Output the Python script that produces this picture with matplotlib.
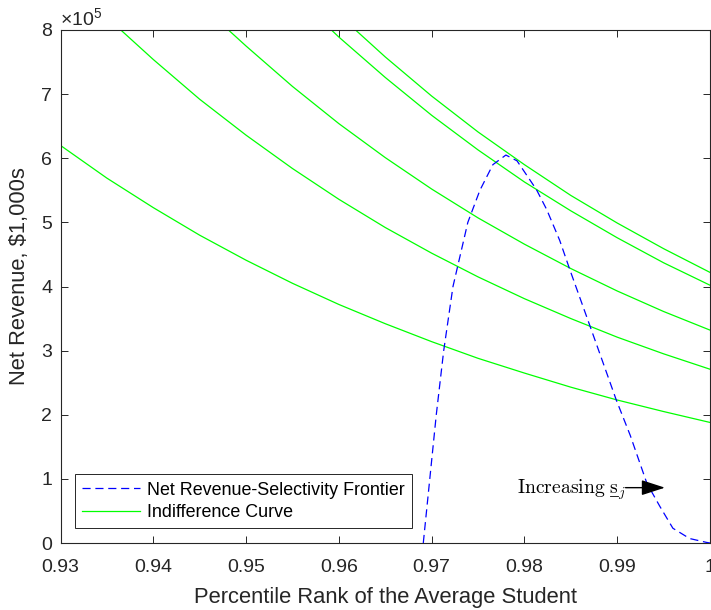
import matplotlib
matplotlib.use("Agg")
import matplotlib.pyplot as plt
from matplotlib.lines import Line2D

# ---------------- data (values in units of 1e5) ----------------
frontier_x = [0.9691, 0.9698, 0.9705, 0.9713, 0.9723, 0.9731, 0.9739, 0.9752, 0.9766,
              0.9780, 0.9792, 0.9813, 0.9824, 0.9838, 0.9849, 0.9871, 0.9899, 0.9914,
              0.9932, 0.9946, 0.9960, 0.9978, 0.9996, 1.0000]
frontier_y = [0.00, 1.00, 2.00, 3.00, 4.00, 4.50, 5.00, 5.50, 5.90,
              6.05, 5.96, 5.51, 5.20, 4.72, 4.26, 3.37, 2.23, 1.68,
              0.93, 0.57, 0.23, 0.07, 0.01, 0.00]

ic1_x = [0.930, 0.935, 0.940, 0.945, 0.950, 0.955, 0.960, 0.965, 0.970, 0.975,
         0.980, 0.985, 0.990, 0.995, 1.000]
ic1_y = [6.20, 5.69, 5.23, 4.80, 4.41, 4.05, 3.72, 3.42, 3.14, 2.88,
         2.65, 2.43, 2.23, 2.05, 1.88]

ic2_x = [0.9365, 0.940, 0.945, 0.950, 0.955, 0.960, 0.965, 0.970, 0.975, 0.980,
         0.985, 0.990, 0.995, 1.000]
ic2_y = [8.00, 7.54, 6.92, 6.36, 5.84, 5.36, 4.92, 4.52, 4.15, 3.81,
         3.50, 3.21, 2.95, 2.71]

ic3_x = [0.9481, 0.950, 0.955, 0.960, 0.965, 0.970, 0.975, 0.980, 0.985, 0.990,
         0.995, 1.000]
ic3_y = [8.00, 7.75, 7.12, 6.54, 6.01, 5.52, 5.07, 4.66, 4.28, 3.93,
         3.61, 3.32]

ic4_x = [0.9592, 0.960, 0.965, 0.970, 0.975, 0.980, 0.985, 0.990, 0.995, 1.000]
ic4_y = [8.00, 7.89, 7.26, 6.67, 6.13, 5.63, 5.18, 4.76, 4.37, 4.02]

ic5_x = [0.9618, 0.965, 0.970, 0.975, 0.980, 0.985, 0.990, 0.995, 1.000]
ic5_y = [8.00, 7.58, 6.97, 6.41, 5.90, 5.42, 4.99, 4.59, 4.22]

indiff_x = [ic1_x, ic2_x, ic3_x, ic4_x, ic5_x]
indiff_y = [ic1_y, ic2_y, ic3_y, ic4_y, ic5_y]

x_ticks = [0.93, 0.94, 0.95, 0.96, 0.97, 0.98, 0.99, 1.00]
x_ticklabels = ["0.93", "0.94", "0.95", "0.96", "0.97", "0.98", "0.99", "1"]
y_ticks = [0, 1, 2, 3, 4, 5, 6, 7, 8]
y_ticklabels = [str(v) for v in y_ticks]

legend_labels = ["Net Revenue-Selectivity Frontier", "Indifference Curve"]
x_label = "Percentile Rank of the Average Student"
y_label = "Net Revenue, $1,000s"
annot_head = (0.99514, 0.863)
annot_tail = (0.99090, 0.863)
annot_baseline = 0.775

# ---------------- style ----------------
plt.rcParams["font.family"] = ["Liberation Sans", "DejaVu Sans"]
plt.rcParams["mathtext.fontset"] = "custom"
plt.rcParams["mathtext.rm"] = "Liberation Sans"
plt.rcParams["mathtext.it"] = "Liberation Sans:italic"
gray = "#262626"

fig = plt.figure(figsize=(7.11, 6.10), dpi=100)
ax = fig.add_axes([60.5 / 711, (610 - 543) / 610, 649.5 / 711, 513 / 610])

hf, = ax.plot(frontier_x, frontier_y, color="#0000ff", lw=0.9,
              linestyle=(0, (6.5, 3.8)), zorder=3)
hi = None
for xs, ys in zip(indiff_x, indiff_y):
    h, = ax.plot(xs, ys, color="#00ff00", lw=0.9, zorder=2)
    if hi is None:
        hi = h

ax.set_xlim(0.93, 1.0)
ax.set_ylim(0, 8)
ax.set_xticks(x_ticks)
ax.set_xticklabels(x_ticklabels)
ax.set_yticks(y_ticks)
ax.set_yticklabels(y_ticklabels)
ax.tick_params(direction="in", length=5, width=0.7, colors=gray,
               labelsize=14, top=True, right=True, labelcolor=gray)
ax.tick_params(axis="x", pad=11.5)
ax.tick_params(axis="y", pad=6)
for s in ax.spines.values():
    s.set_color(gray)
    s.set_linewidth(0.8)

ax.set_xlabel(x_label, fontsize=15.8, color=gray)
ax.xaxis.set_label_coords(0.5, (543 - 603) / 513)
ax.xaxis.label.set_va("baseline")
ax.set_ylabel(y_label, fontsize=15.8, color=gray)
ax.yaxis.set_label_coords((20 - 60.5) / 649.5, (543 - 276) / 513)
ax.yaxis.label.set_va("center")

# exponent label
ax.text(0.0, 1.0 + 5 / 513, r"$\times10^{5}$", transform=ax.transAxes, fontsize=14,
        color=gray, ha="left", va="baseline")

leg = ax.legend([hf, hi], legend_labels, loc="lower left",
                bbox_to_anchor=(0.022, 0.029), fontsize=12.9, frameon=True,
                fancybox=False, framealpha=1, edgecolor=gray, handlelength=3.25,
                handletextpad=0.4, labelspacing=0.3, borderpad=0.4,
                borderaxespad=0)
leg.get_frame().set_linewidth(0.7)
for t in leg.get_texts():
    t.set_color("#000000")

# annotation: arrow + LaTeX-style label with underlined s
ax.annotate("", xy=annot_head, xytext=annot_tail,
            arrowprops=dict(arrowstyle="-|>,head_length=1.45,head_width=0.47",
                            color="k", lw=1.0, shrinkA=0, shrinkB=0), zorder=4)
tprops = dict(fontsize=14.2, math_fontfamily="cm", ha="right", va="baseline",
              color="k", zorder=4)
ax.text(annot_tail[0], annot_baseline, r"$\mathrm{Increasing}\ \mathrm{s}_j$", **tprops)

fig.canvas.draw()
renderer = fig.canvas.get_renderer()
aux_sj = ax.text(annot_tail[0], annot_baseline, r"$\mathrm{s}_j$", **tprops)
aux_s = ax.text(annot_tail[0], annot_baseline, r"$\mathrm{s}$", **tprops)
bb_sj = aux_sj.get_window_extent(renderer)
bb_s = aux_s.get_window_extent(renderer)
x0 = bb_sj.x0
x1 = x0 + bb_s.width
base_disp = ax.transData.transform((annot_tail[0], annot_baseline))[1]
yu = base_disp - 3.0
aux_sj.remove()
aux_s.remove()
inv = fig.transFigure.inverted()
(fx0, fy0), (fx1, fy1) = inv.transform([(x0 + 0.5, yu), (x1 - 0.5, yu)])
fig.add_artist(Line2D([fx0, fx1], [fy0, fy1], transform=fig.transFigure,
                      color="k", lw=0.6, zorder=5))

fig.savefig("out.png", dpi=100)
